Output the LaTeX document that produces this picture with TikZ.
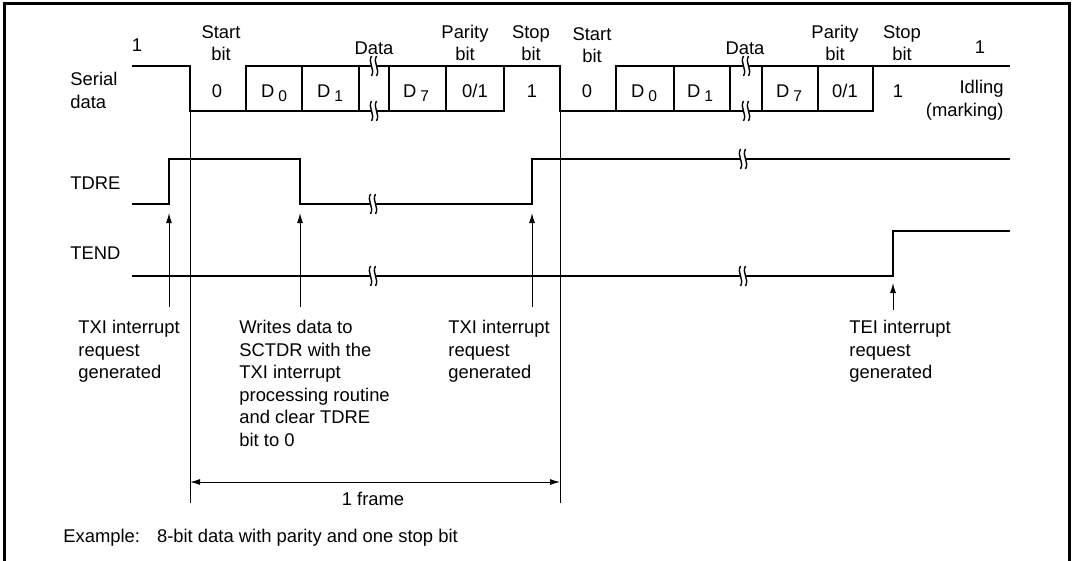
\documentclass[tikz,border=0pt]{standalone}
\usepackage{fontspec}
\setmainfont{Liberation Sans}
\usetikzlibrary{arrows.meta}
\newcommand{\txt}{\fontsize{9.2}{11.25}\selectfont}
\newcommand{\sub}[1]{\hspace{2pt}\raisebox{-2pt}{\fontsize{7.8}{9}\selectfont #1}}
\tikzset{wave/.style={line width=1.3pt,line join=miter}, guide/.style={line width=0.5pt}, lbl/.style={font=\txt,inner sep=0pt,align=center}, note/.style={lbl,align=left,anchor=north west}, bitval/.style={lbl,anchor=base}, trig/.style={guide,-{Latex[length=5pt,width=3pt]}}, span/.style={guide,{Latex[length=5pt,width=3pt]}-{Latex[length=5pt,width=3pt]}}, brk/.pic={\fill[white] (-2.5,-10) .. controls (-6.5,-3) and (1.5,3) .. (-2.5,10) -- (2.5,10) .. controls (6.5,3) and (-1.5,-3) .. (2.5,-10) -- cycle; \draw[line width=0.7pt] (-2.5,-10) .. controls (-6.5,-3) and (1.5,3) .. (-2.5,10); \draw[line width=0.7pt] (2.5,-10) .. controls (-1.5,-3) and (6.5,3) .. (2.5,10);}}

\begin{document}
\begin{tikzpicture}[x=0.5pt,y=-0.5pt]
\useasboundingbox (0,0) rectangle (1074,561);
\draw[line width=1.5pt] (4,566) -- (4,4) -- (1069.5,4) -- (1069.5,566);
\node[note] (serial) at (70,72) {Serial\\data};
\node[lbl,anchor=west] (tdre) at (70,183) {TDRE};
\node[lbl,anchor=west] (tend) at (70,253) {TEND};
\node[lbl] (idleA) at (137,45) {1};
\node[lbl] (startA) at (221,43) {Start\\bit};
\node[lbl] (dataA) at (374,48) {Data};
\node[lbl] (parityA) at (465,43) {Parity\\bit};
\node[lbl] (stopA) at (531,43) {Stop\\bit};
\node[lbl] (startB) at (592,45) {Start\\bit};
\node[lbl] (dataB) at (745,48) {Data};
\node[lbl] (parityB) at (835,43) {Parity\\bit};
\node[lbl] (stopB) at (902,43) {Stop\\bit};
\node[lbl] (idleB) at (980,47) {1};
\node[lbl,align=right,anchor=east] (idling) at (1004,100) {Idling\\(marking)};
\foreach \x/\v/\n in {217/0/a0,274/D\sub{0}/a1,330/D\sub{1}/a2,416/D\sub{7}/a3,475/0\slash1/a4,532/1/a5,587/0/b0,644/D\sub{0}/b1,700/D\sub{1}/b2,789/D\sub{7}/b3,845/0\slash1/b4,898/1/b5}
  \node[bitval] (bit\n) at (\x,98) {\v};
\draw[wave] (132,66) -| (190,111) -| (504,66);
\draw[wave] (246,111) |- (560,66) |- (873,111) -- (873,66);
\draw[wave] (616,111) |- (1010,66);
\foreach \x in {302,359,389,446,674,730,762,818} \draw[wave] (\x,66) -- (\x,111);
\draw[wave] (132,204) -| (169,159) -| (300,204) -| (532,159) -- (1010,159);
\draw[wave] (132,276) -| (893,231) -- (1010,231);
\foreach \p in {(374,66),(374,111),(746,66),(746,111),(373,204),(743,159),(373,276),(743,276)} \pic at \p {brk};
\coordinate (frameL) at (190,111);
\coordinate (frameR) at (560,111);
\coordinate (frameLb) at (190,503);
\coordinate (frameRb) at (560,503);
\draw[guide] (frameL) -- (frameLb);
\draw[guide] (frameR) -- (frameRb);
\draw[span] (190,482) -- (560,482);
\node[lbl,anchor=base] (frame) at (373,505) {1 frame};
\node[note] (txiA) at (78,320) {TXI interrupt\\request\\generated};
\node[note] (write) at (239,320) {Writes data to\\SCTDR with the\\TXI interrupt\\processing routine\\and clear TDRE\\bit to 0};
\node[note] (txiB) at (448,320) {TXI interrupt\\request\\generated};
\node[note] (tei) at (849,320) {TEI interrupt\\request\\generated};
\coordinate (riseA) at (169,213);
\coordinate (fallA) at (300,213);
\coordinate (riseB) at (532,213);
\coordinate (riseC) at (893,283);
\draw[trig] (riseA |- 0,307) -- (riseA);
\draw[trig] (fallA |- 0,307) -- (fallA);
\draw[trig] (riseB |- 0,307) -- (riseB);
\draw[trig] (riseC |- 0,310) -- (riseC);
\node[lbl,anchor=base west] (example) at (63,542) {Example:\hspace{8.5pt}8-bit data with parity and one stop bit};
\end{tikzpicture}
\end{document}
